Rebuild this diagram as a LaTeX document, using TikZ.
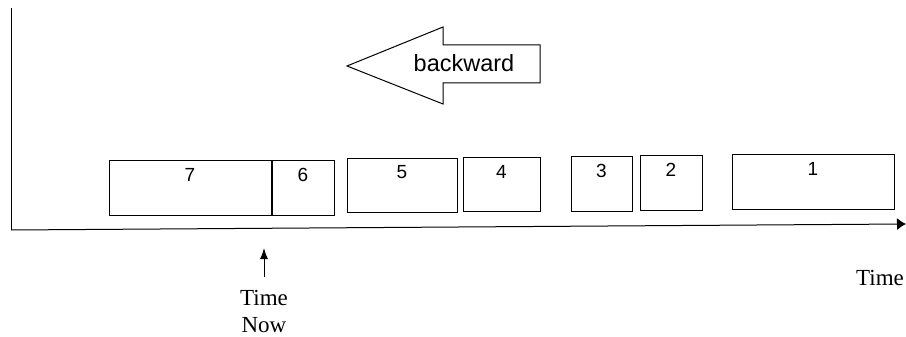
\documentclass[tikz,border=0pt]{standalone}
\usepackage{fontspec}
\setmainfont{Liberation Serif}
\setsansfont{Liberation Sans}
\usetikzlibrary{arrows.meta,positioning}
\begin{document}
\begin{tikzpicture}[x=1pt,y=-1pt,
  line width=1pt,
  box/.style={draw, inner sep=0pt, rectangle},
  num/.style={font=\sffamily\fontsize{19}{19}\selectfont, inner sep=0pt, anchor=north},
  lbl/.style={font=\fontsize{23}{27}\selectfont, inner sep=0pt, align=center}]
\useasboundingbox (0,0) rectangle (906,337);
% axes
\coordinate (top) at (11,8);
\coordinate (org) at (11,230);
\coordinate (end) at (906,224);
\draw (top) -- (org);
\draw[-{Latex[length=9pt,width=12pt]}] (org) -- (end);
% boxes
\node[box, minimum width=162pt, minimum height=55pt] (b7) at (190,187.5) {};
\node[box, minimum width=62pt, minimum height=55pt, anchor=north west] (b6) at (b7.north east) {};
\node[box, minimum width=110pt, minimum height=54pt] (b5) at (402,185) {};
\node[box, minimum width=77pt, minimum height=54pt] (b4) at (501.5,184) {};
\node[box, minimum width=61pt, minimum height=55pt] (b3) at (601.5,183.5) {};
\node[box, minimum width=62pt, minimum height=55pt] (b2) at (671,182.5) {};
\node[box, minimum width=162pt, minimum height=55pt] (b1) at (813,181.5) {};
\node[num, below=8pt of b7.north] {7};
\node[num, below=8pt of b6.north] {6};
\node[num, below=7pt of b5.north] {5};
\node[num, below=8pt of b4.north] {4};
\node[num, below=8pt of b3.north] {3};
\node[num, below=8pt of b2.north] {2};
\node[num, below=8pt of b1.north] {1};
% backward arrow
\draw (347,66) -- (443,27) -- (443,45) -- (540,45) -- (540,83) -- (443,83) -- (443,104) -- cycle;
\node[font=\sffamily\fontsize{23.5}{23.5}\selectfont, inner sep=0pt] (bw) at (464,63) {backward};
% time now
\node[lbl] (now) at (264,311) {Time\\Now};
\coordinate (tip) at (264,248);
\coordinate (tail) at (264,277);
\draw[-{Latex[length=11pt,width=8pt]}] (tail) -- (tip);
\node[lbl] (time) at (880,278) {Time};
\end{tikzpicture}
\end{document}
